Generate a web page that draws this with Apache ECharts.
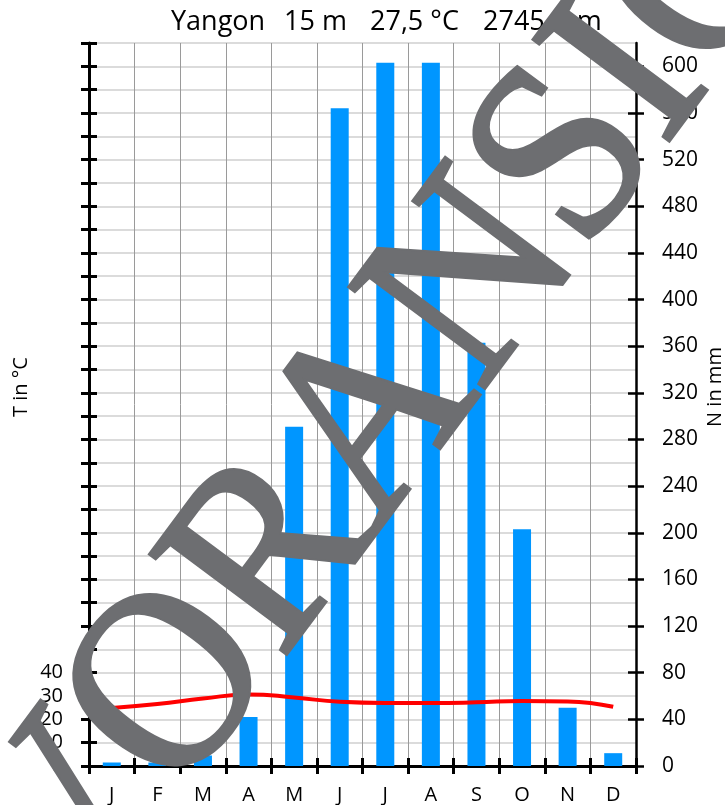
<!DOCTYPE html>
<html>
<head>
<meta charset="utf-8">
<script src="https://cdn.jsdelivr.net/npm/echarts@6/dist/echarts.min.js"></script>
<style>
html,body{margin:0;padding:0;background:#fff;}
#c{width:725px;height:805px;}
</style>
</head>
<body>
<div id="c"></div>
<script>
const months = ['J','F','M','A','M','J','J','A','S','O','N','D'];
const precip = [3,3,9,42,291,564,603,603,363,203,50,11];
const temp = [24.9,26.6,28.9,30.7,29.4,27.5,27.0,27.0,27.3,27.9,27.7,25.4];
const tempLabels = [0,10,20,30,40];
const precipTicks = [0,40,80,120,160,200,240,280,320,360,400,440,480,520,560,600];
const titleParts = ['Yangon', '15 m', '27,5 °C', '2745 mm'];
const watermark = 'VORANSICHT';

const FONT = '"Open Sans", "Noto Sans", sans-serif';
const chart = echarts.init(document.getElementById('c'), null, {renderer:'canvas'});

const tickTemp = [];
for (let v = 0; v <= 310; v += 10) tickTemp.push(v);

// title segments (left x positions)
const titleX = [171, 284, 370, 483];
const graphics = titleParts.map((t, i) => ({
  type: 'text', x: titleX[i], y: 22, z: 10,
  style: {text: t, font: '27px ' + FONT, fill: '#000', textAlign: 'left', textVerticalAlign: 'middle'}
}));
graphics.push(
  {type: 'text', x: 21, y: 387, rotation: Math.PI / 2, z: 10,
   style: {text: 'T in °C', font: '20px ' + FONT, fill: '#000', textAlign: 'center', textVerticalAlign: 'middle'}},
  {type: 'text', x: 715, y: 387, rotation: Math.PI / 2, z: 10,
   style: {text: 'N in mm', font: '20px ' + FONT, fill: '#000', textAlign: 'center', textVerticalAlign: 'middle'}},
  {type: 'text', x: 20, y: 898, rotation: 53.3 * Math.PI / 180, scaleX: 0.93, z: 100,
   style: {text: watermark, font: '258px "Liberation Serif", "DejaVu Serif", serif', fill: '#6d6e71',
           stroke: '#6d6e71', lineWidth: 4, textAlign: 'left', textVerticalAlign: 'middle'}}
);

const option = {
  animation: false,
  grid: {left: 89, right: 89, top: 43, bottom: 38, containLabel: false},
  xAxis: [
    {
      type: 'category', data: months, boundaryGap: true, position: 'bottom',
      axisLine: {show: true, lineStyle: {color: '#000', width: 3}},
      axisTick: {show: true, inside: false, length: 8, lineStyle: {color: '#000', width: 3}},
      axisLabel: {show: true, color: '#000', fontSize: 20, fontFamily: FONT, margin: 19},
      splitLine: {show: true, lineStyle: {color: '#9a9a9a', width: 1}}
    },
    {
      type: 'category', data: months, boundaryGap: true, position: 'bottom',
      axisLine: {show: false},
      axisTick: {show: true, inside: true, length: 8, lineStyle: {color: '#000', width: 3}},
      axisLabel: {show: false},
      splitLine: {show: false}
    }
  ],
  yAxis: [
    {
      type: 'value', min: 0, max: 310, interval: 10, position: 'left',
      axisLine: {show: true, lineStyle: {color: '#000', width: 3}},
      axisTick: {show: true, inside: false, length: 8, lineStyle: {color: '#000', width: 3}, customValues: tickTemp},
      axisLabel: {show: true, color: '#000', fontSize: 20, fontFamily: FONT, margin: 26, customValues: tempLabels},
      splitLine: {show: true, lineStyle: {color: '#cfcfcf', width: 1.5}}
    },
    {
      type: 'value', min: 0, max: 310, interval: 10, position: 'left',
      axisLine: {show: false},
      axisTick: {show: true, inside: true, length: 8, lineStyle: {color: '#000', width: 3}, customValues: tickTemp},
      axisLabel: {show: false},
      splitLine: {show: false}
    },
    {
      type: 'value', min: 0, max: 620, interval: 20, position: 'right',
      axisLine: {show: true, lineStyle: {color: '#000', width: 2.5}},
      axisTick: {show: true, inside: false, length: 8, lineStyle: {color: '#000', width: 2.5}, customValues: precipTicks},
      axisLabel: {show: true, color: '#000', fontSize: 21, fontFamily: FONT, margin: 26, customValues: precipTicks},
      splitLine: {show: false}
    },
    {
      type: 'value', min: 0, max: 620, interval: 20, position: 'right',
      axisLine: {show: false},
      axisTick: {show: true, inside: true, length: 8, lineStyle: {color: '#000', width: 2.5}, customValues: precipTicks},
      axisLabel: {show: false},
      splitLine: {show: false}
    }
  ],
  series: [
    {
      type: 'bar', xAxisIndex: 0, yAxisIndex: 2, data: precip, barWidth: 18,
      itemStyle: {color: '#0096ff'}, z: 2
    },
    {
      type: 'line', xAxisIndex: 0, yAxisIndex: 0, data: temp, smooth: 0.5,
      symbol: 'none', lineStyle: {color: '#ff0000', width: 4}, z: 3
    }
  ],
  graphic: graphics
};
chart.setOption(option);
</script>
</body>
</html>
